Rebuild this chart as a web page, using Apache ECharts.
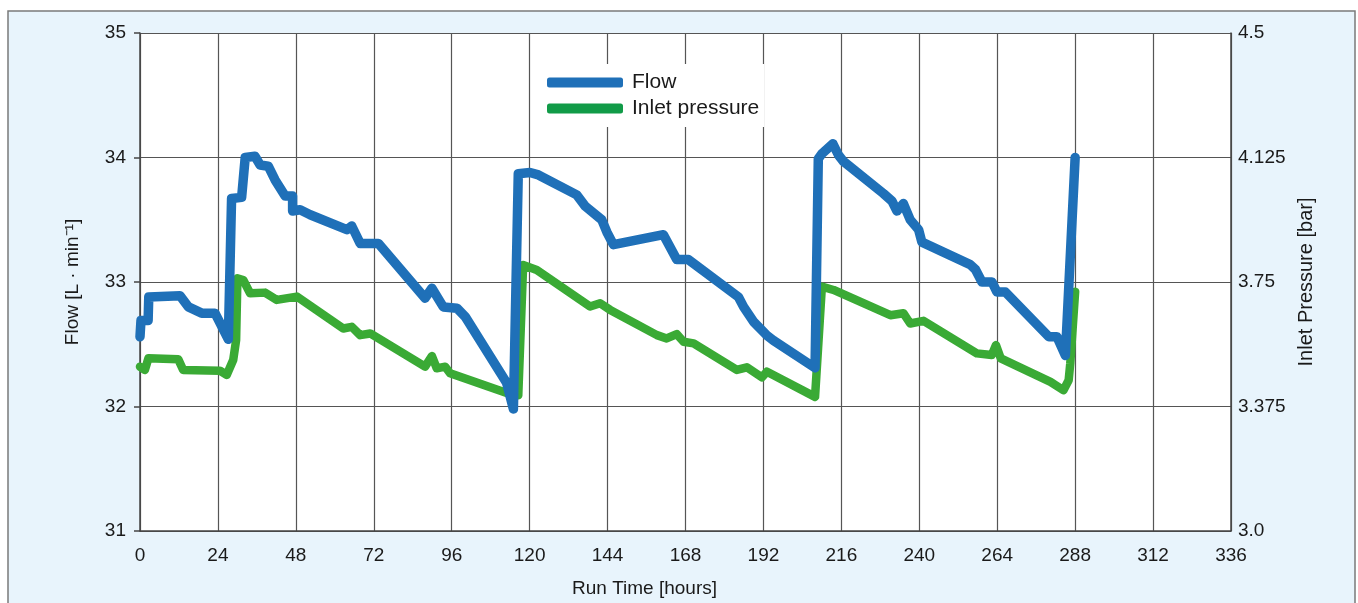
<!DOCTYPE html>
<html>
<head>
<meta charset="utf-8">
<script src="https://cdn.jsdelivr.net/npm/echarts@6/dist/echarts.min.js"></script>
<style>
html,body{margin:0;padding:0;background:#fff;}
#chart{width:1358px;height:603px;}
</style>
</head>
<body>
<div id="chart"></div>
<script>
// Flow [L·min-1] vs run time [hours]
const flowHours = [0,0.3,2.5,2.7,12.3,14.9,19.0,23.1,27.2,28.2,31.3,32.4,35.4,37.0,39.5,41.6,44.7,47.0,47.0,49.3,52.4,63.7,65.2,67.8,73.4,87.8,89.9,93.4,97.6,100.2,112.9,115.0,116.5,120.1,122.7,134.5,137.1,142.2,143.8,145.8,161.2,165.3,168.9,184.3,185.9,189.0,193.1,195.1,207.9,208.9,210.0,213.4,215.1,216.6,229.0,231.6,233.1,235.1,237.2,239.8,240.8,255.7,257.3,259.3,262.4,263.9,266.5,279.9,282.4,285.0,288.0];
const flowValues = [32.56,32.69,32.69,32.88,32.89,32.80,32.75,32.75,32.54,33.67,33.68,34.00,34.01,33.94,33.93,33.82,33.69,33.69,33.57,33.58,33.54,33.42,33.45,33.31,33.31,32.87,32.95,32.80,32.79,32.72,32.19,31.98,33.87,33.88,33.86,33.70,33.61,33.50,33.40,33.30,33.38,33.18,33.18,32.88,32.80,32.68,32.57,32.53,32.31,33.99,34.03,34.11,34.02,33.97,33.71,33.65,33.57,33.63,33.50,33.42,33.32,33.14,33.10,33.00,33.00,32.92,32.92,32.56,32.56,32.41,34.00];
// Inlet pressure [bar] vs run time [hours]
const pressureHours = [0,1.5,2.6,11.8,13.3,24.6,26.7,28.7,29.6,30.0,31.8,33.9,38.5,42.1,48.3,62.6,65.2,67.8,70.9,87.8,89.9,91.4,94.0,95.5,113.4,116.5,118.0,122.2,138.6,141.7,144.8,159.2,162.2,165.3,167.4,170.5,183.8,186.9,191.5,193.1,207.9,210.0,213.6,231.1,235.1,237.2,241.3,257.7,262.3,263.6,265.1,280.4,284.4,286.0,286.5,288.0];
const pressureValues = [3.495,3.485,3.520,3.517,3.485,3.483,3.470,3.515,3.575,3.761,3.756,3.716,3.718,3.696,3.706,3.610,3.615,3.590,3.595,3.495,3.527,3.490,3.495,3.475,3.414,3.409,3.801,3.786,3.676,3.686,3.666,3.590,3.580,3.593,3.570,3.565,3.485,3.493,3.463,3.480,3.404,3.736,3.726,3.650,3.656,3.625,3.633,3.535,3.530,3.560,3.520,3.449,3.424,3.454,3.505,3.721];
// Tick labels
const xTicks = [0,24,48,72,96,120,144,168,192,216,240,264,288,312,336];
const flowTicks = [31,32,33,34,35];
const pressureTickLabels = ['3.0','3.375','3.75','4.125','4.5'];
const seriesNames = ['Flow','Inlet pressure'];

const FONT = "'Liberation Sans', Arial, sans-serif";
const chart = echarts.init(document.getElementById('chart'));
const flowData = flowHours.map((h,i)=>[h, flowValues[i]]);
const pressureData = pressureHours.map((h,i)=>[h, pressureValues[i]]);

chart.setOption({
  animation:false,
  backgroundColor:'#ffffff',
  graphic:[{
    type:'rect', z:-100,
    shape:{x:8,y:11,width:1347,height:600},
    style:{fill:'#e8f4fc',stroke:'#7a7a7a',lineWidth:1.5}
  }],
  grid:{left:140,right:127,top:33,bottom:72,show:true,backgroundColor:'#ffffff',borderWidth:0},
  legend:{
    data:[{name:seriesNames[0],itemStyle:{color:'#1f70b8'}},{name:seriesNames[1],itemStyle:{color:'#119b48'}}],
    orient:'vertical', left:533, top:64,
    backgroundColor:'#ffffff',
    padding:[8,5,8,14],
    icon:'roundRect', itemWidth:76, itemHeight:10, itemGap:5,
    textStyle:{fontFamily:FONT,fontSize:21,color:'#1a1a1a',padding:[0,0,0,4]}
  },
  xAxis:{
    type:'value', min:0, max:336, interval:24,
    name:'Run Time [hours]', nameLocation:'middle', nameGap:48,
    nameTextStyle:{fontFamily:FONT,fontSize:19,color:'#1a1a1a',padding:[0,82,0,0]},
    axisLine:{show:true,onZero:false,lineStyle:{color:'#444',width:1.5}},
    axisTick:{show:false},
    axisLabel:{fontFamily:FONT,fontSize:19,color:'#1a1a1a',margin:15,formatter:(v)=> xTicks.includes(v)? String(v):''},
    splitLine:{show:true,lineStyle:{color:'#555',width:1.2}}
  },
  yAxis:[{
    type:'value', min:31, max:35, interval:1, position:'left',
    name:'Flow [L · min⁻¹]', nameLocation:'middle', nameGap:58,
    nameTextStyle:{fontFamily:FONT,fontSize:19,color:'#1a1a1a'},
    axisLine:{show:true,lineStyle:{color:'#444',width:1.5}},
    axisTick:{show:true,length:6,inside:false,lineStyle:{color:'#444',width:1.5}},
    axisLabel:{fontFamily:FONT,fontSize:19,color:'#1a1a1a',margin:14,formatter:(v)=> flowTicks.includes(v)? String(v):''},
    splitLine:{show:true,lineStyle:{color:'#555',width:1.2}}
  },{
    type:'value', min:3, max:4.5, interval:0.375, position:'right',
    name:'Inlet Pressure [bar]', nameLocation:'middle', nameGap:61,
    nameTextStyle:{fontFamily:FONT,fontSize:20,color:'#1a1a1a'},
    axisLine:{show:true,lineStyle:{color:'#444',width:1.5}},
    axisTick:{show:false},
    axisLabel:{fontFamily:FONT,fontSize:19,color:'#1a1a1a',margin:7,formatter:(v)=>{const i=Math.round((v-3)/0.375);return pressureTickLabels[i]||'';}},
    splitLine:{show:false}
  }],
  series:[{
    name:seriesNames[1], type:'line', yAxisIndex:1, data:pressureData,
    showSymbol:false, symbol:'none',
    lineStyle:{color:'#3aaa35',width:8.5,cap:'round',join:'round'},
    itemStyle:{color:'#119b48'}
  },{
    name:seriesNames[0], type:'line', yAxisIndex:0, data:flowData,
    showSymbol:false, symbol:'none',
    lineStyle:{color:'#1f70b8',width:9.5,cap:'round',join:'round'},
    itemStyle:{color:'#1f70b8'}
  }]
});
</script>
</body>
</html>
